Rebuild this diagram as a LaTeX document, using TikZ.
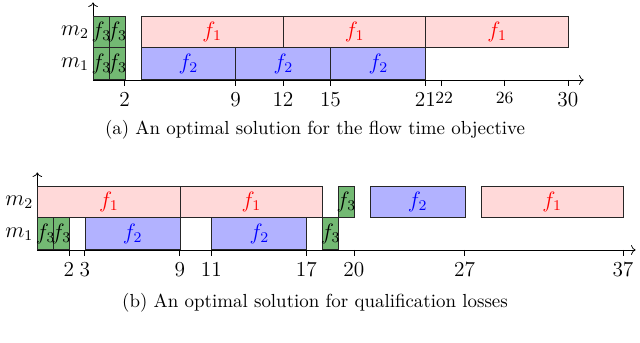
\documentclass[tikz,border=0pt]{standalone}
\usepackage{amsmath}
\usetikzlibrary{arrows.meta, positioning}

\begin{document}
\begin{tikzpicture}[
    every node/.style={font=\fontsize{11.5}{14}\selectfont},
    job/.style={rectangle, draw=black!85, line width=0.5pt, anchor=south west,
                inner sep=0pt, minimum height=0.6cm},
    fone/.style={job, fill=red!15, text=red},
    ftwo/.style={job, fill=blue!30, text=blue},
    fthree/.style={job, fill=green!50!black!55, text=black},
    span/.style={minimum width=#1*0.3cm},
    tick/.style={below, inner sep=3.5pt},
    smalltick/.style={below, inner sep=3.5pt, font=\fontsize{9.2}{11}\selectfont},
    captext/.style={font=\fontsize{10.2}{12}\selectfont}
  ]
  \useasboundingbox (0,0) rectangle (12.13,6.50);

  % (a) flow time objective
  \begin{scope}[x=0.3cm, y=0.6cm, shift={(1.763cm,4.984cm)}]
    \coordinate (a0) at (0,0);
    \coordinate (ax) at (31,0);
    \coordinate (ay) at (0,2.45);
    \draw[->] (a0) -- (ax);
    \draw[->] (a0) -- (ay);

    \node[left, inner sep=2pt] (am2) at (0,1.5) {$m_2$};
    \node[left, inner sep=2pt] (am1) at (0,0.5) {$m_1$};

    \node[fthree, span=1] (a21) at (0,1)  {\makebox[0pt]{$f_3$}};
    \node[fthree, span=1] (a22) at (1,1)  {\makebox[0pt]{$f_3$}};
    \node[fone, span=9]   (a23) at (3,1)  {$f_1$};
    \node[fone, span=9]   (a24) at (12,1) {$f_1$};
    \node[fone, span=9]   (a25) at (21,1) {$f_1$};

    \node[fthree, span=1] (a11) at (0,0)  {\makebox[0pt]{$f_3$}};
    \node[fthree, span=1] (a12) at (1,0)  {\makebox[0pt]{$f_3$}};
    \node[ftwo, span=6]   (a13) at (3,0)  {$f_2$};
    \node[ftwo, span=6]   (a14) at (9,0)  {$f_2$};
    \node[ftwo, span=6]   (a15) at (15,0) {$f_2$};

    \foreach \t in {2,9,12,15,21,30}
      \draw (\t,0) -- (\t,-0.18) node[tick] (ta\t) {\t};
    \draw (22,0) -- (22,-0.18) node[smalltick, xshift=1.5pt] (ta22) {22};
    \draw (26,0) -- (26,-0.18) node[smalltick] (ta26) {26};
  \end{scope}

  \node[captext] (capa) at (5.97,4.036)
        {(a) An optimal solution for the flow time objective};

  % (b) qualification losses
  \begin{scope}[x=0.3cm, y=0.6cm, shift={(0.707cm,1.762cm)}]
    \coordinate (b0) at (0,0);
    \coordinate (bx) at (37.8,0);
    \coordinate (by) at (0,2.45);
    \draw[->] (b0) -- (bx);
    \draw[->] (b0) -- (by);

    \node[left, inner sep=2pt] (bm2) at (0,1.5) {$m_2$};
    \node[left, inner sep=2pt] (bm1) at (0,0.5) {$m_1$};

    \node[fone, span=9]   (b21) at (0,1)  {$f_1$};
    \node[fone, span=9]   (b22) at (9,1)  {$f_1$};
    \node[fthree, span=1] (b23) at (19,1) {\makebox[0pt]{$f_3$}};
    \node[ftwo, span=6]   (b24) at (21,1) {$f_2$};
    \node[fone, span=9]   (b25) at (28,1) {$f_1$};

    \node[fthree, span=1] (b11) at (0,0)  {\makebox[0pt]{$f_3$}};
    \node[fthree, span=1] (b12) at (1,0)  {\makebox[0pt]{$f_3$}};
    \node[ftwo, span=6]   (b13) at (3,0)  {$f_2$};
    \node[ftwo, span=6]   (b14) at (11,0) {$f_2$};
    \node[fthree, span=1] (b15) at (18,0) {\makebox[0pt]{$f_3$}};

    \foreach \t in {2,3,9,11,17,20,27,37}
      \draw (\t,0) -- (\t,-0.18) node[tick] (tb\t) {\t};
  \end{scope}

  \node[captext] (capb) at (5.97,0.757)
        {(b) An optimal solution for qualification losses};
\end{tikzpicture}
\end{document}
